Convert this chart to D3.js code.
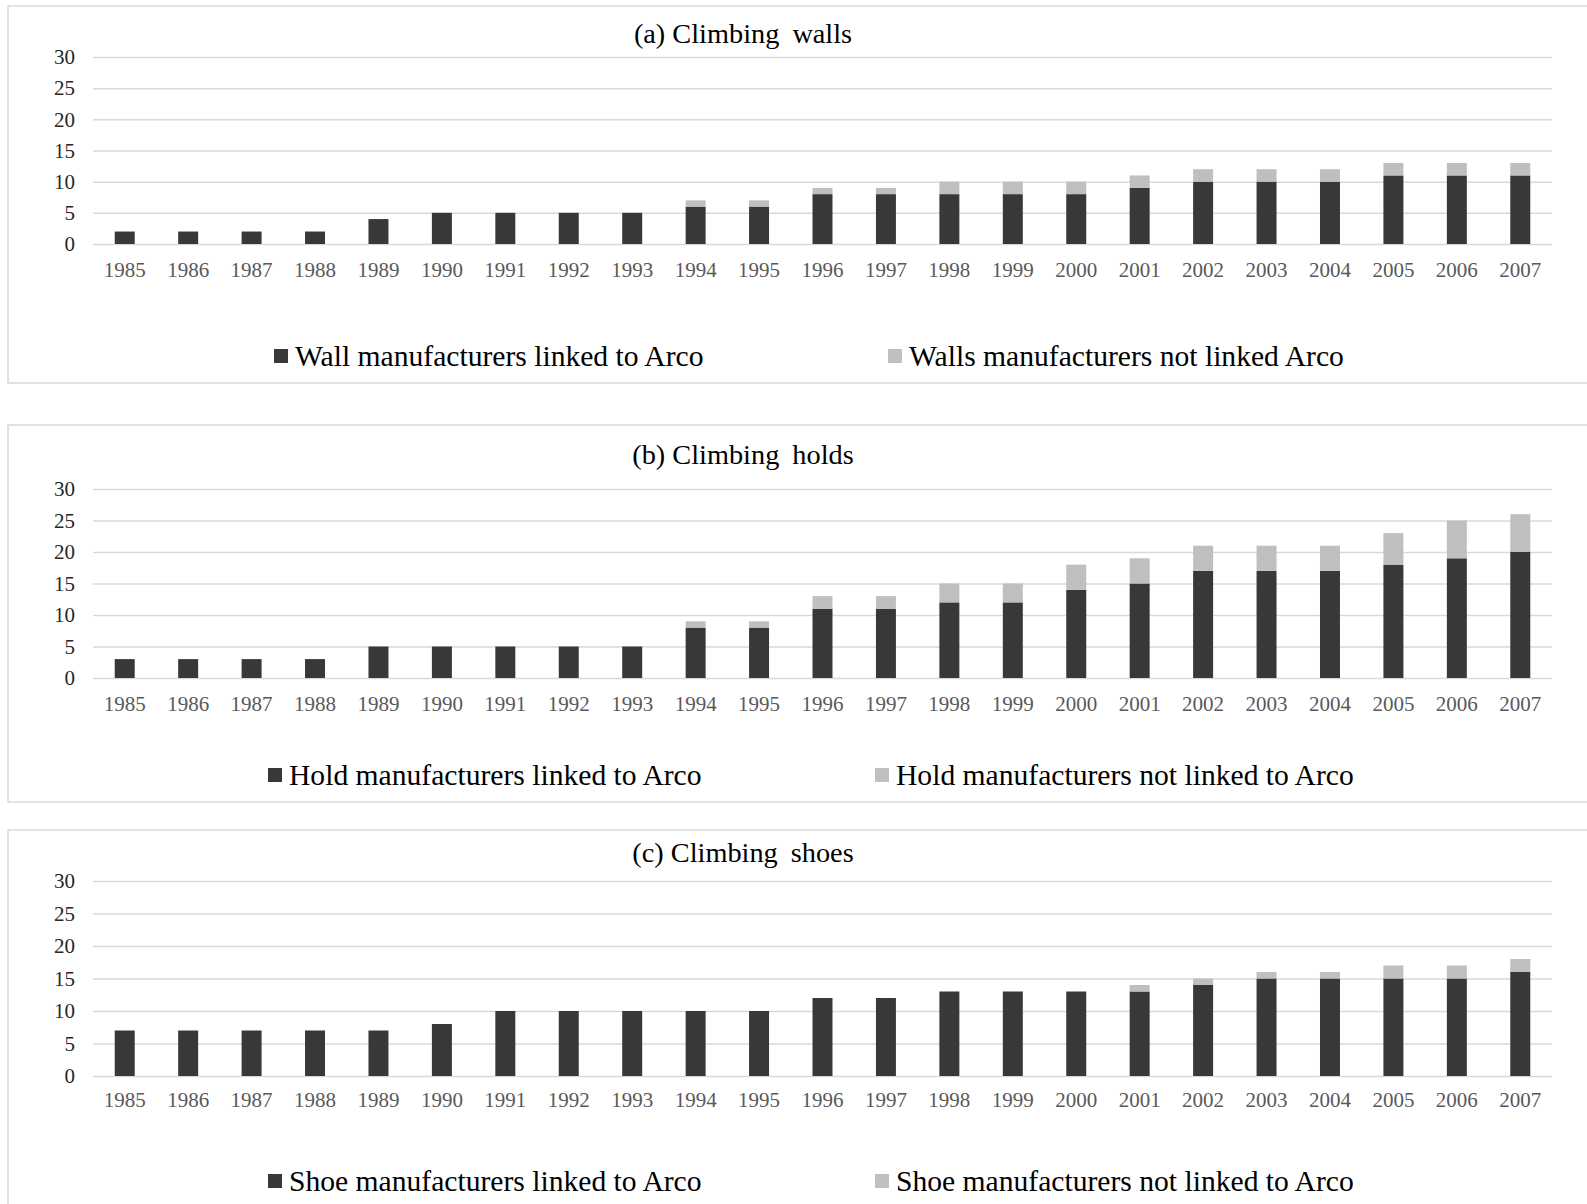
<!DOCTYPE html>
<html lang="en">
<head>
  <meta charset="UTF-8" />
  <title>Climbing manufacturers</title>
  <script src="https://cdn.jsdelivr.net/npm/d3@7"></script>
  <style>
    body { margin: 0; background: #fff; }
    svg text { font-family: "Liberation Serif", "Times New Roman", serif; }
  </style>
</head>
<body>
<script>
  // years on the x axis
  const years = d3.range(1985, 2008).map(String);
  const yTicks = [0, 5, 10, 15, 20, 25, 30];

  // (a) climbing walls
  const wallsLinked    = [2, 2, 2, 2, 4, 5, 5, 5, 5, 6, 6, 8, 8, 8, 8, 8, 9, 10, 10, 10, 11, 11, 11];
  const wallsNotLinked = [0, 0, 0, 0, 0, 0, 0, 0, 0, 1, 1, 1, 1, 2, 2, 2, 2, 2, 2, 2, 2, 2, 2];

  // (b) climbing holds
  const holdsLinked    = [3, 3, 3, 3, 5, 5, 5, 5, 5, 8, 8, 11, 11, 12, 12, 14, 15, 17, 17, 17, 18, 19, 20];
  const holdsNotLinked = [0, 0, 0, 0, 0, 0, 0, 0, 0, 1, 1, 2, 2, 3, 3, 4, 4, 4, 4, 4, 5, 6, 6];

  // (c) climbing shoes
  const shoesLinked    = [7, 7, 7, 7, 7, 8, 10, 10, 10, 10, 10, 12, 12, 13, 13, 13, 13, 14, 15, 15, 15, 15, 16];
  const shoesNotLinked = [0, 0, 0, 0, 0, 0, 0, 0, 0, 0, 0, 0, 0, 0, 0, 0, 1, 1, 1, 1, 2, 2, 2];

  // titles split so the wider gap before the last word can be kept
  const titles = [["(a) Climbing", "walls"], ["(b) Climbing", "holds"], ["(c) Climbing", "shoes"]];
  const legendLabels = [
    ["Wall manufacturers linked to Arco", "Walls manufacturers not linked Arco"],
    ["Hold manufacturers linked to Arco", "Hold manufacturers not linked to Arco"],
    ["Shoe manufacturers linked to Arco", "Shoe manufacturers not linked to Arco"]
  ];

  const width = 1587, height = 1204;
  const darkColor = "#3a3836", lightColor = "#bfbfbf", gridColor = "#d9d9d9";
  const plotLeft = 93, plotRight = 1552;

  // layout of each panel box (pixel positions only)
  const panels = [
    { linked: wallsLinked, notLinked: wallsNotLinked, top: 6,   bottom: 383,  y30: 57,  y0: 244,  labelPad: 18, titleY: 43,  legendY: 356,  leg: [274, 888] },
    { linked: holdsLinked, notLinked: holdsNotLinked, top: 425, bottom: 802,  y30: 489, y0: 678,  labelPad: 18, titleY: 464, legendY: 775,  leg: [268, 875] },
    { linked: shoesLinked, notLinked: shoesNotLinked, top: 830, bottom: 1230, y30: 881, y0: 1076, labelPad: 16, titleY: 862, legendY: 1181, leg: [268, 875] }
  ];

  const svg = d3.select("body").append("svg")
    .attr("width", width)
    .attr("height", height);

  const x = d3.scaleBand()
    .domain(years)
    .range([plotLeft, plotRight])
    .paddingInner(0.685)
    .paddingOuter(0.3425);

  panels.forEach((p, i) => {
    const g = svg.append("g");

    // panel frame
    g.append("rect")
      .attr("x", 8).attr("y", p.top)
      .attr("width", width).attr("height", p.bottom - p.top)
      .attr("fill", "#fff")
      .attr("stroke", gridColor)
      .attr("stroke-width", 1.5);

    const y = d3.scaleLinear().domain([0, 30]).range([p.y0, p.y30]);

    // gridlines + y labels
    const yAxis = g.append("g")
      .attr("transform", `translate(${plotLeft},0)`)
      .call(d3.axisLeft(y).tickValues(yTicks).tickSize(-(plotRight - plotLeft)).tickPadding(18));
    yAxis.select(".domain").remove();
    yAxis.selectAll("line").attr("stroke", gridColor).attr("stroke-width", 1.5);
    yAxis.selectAll("text")
      .attr("fill", "#262626")
      .style("font-size", "21px");

    // x labels
    const xAxis = g.append("g")
      .attr("transform", `translate(0,${p.y0})`)
      .call(d3.axisBottom(x).tickSize(0).tickPadding(p.labelPad));
    xAxis.select(".domain").remove();
    xAxis.selectAll("text")
      .attr("fill", "#595959")
      .style("font-size", "21px");

    // stacked bars
    const stacked = years.map((yr, j) => ({ year: yr, linked: p.linked[j], notLinked: p.notLinked[j] }));
    const series = d3.stack().keys(["linked", "notLinked"])(stacked);
    const colors = [darkColor, lightColor];

    g.selectAll("g.series")
      .data(series)
      .join("g")
      .attr("class", "series")
      .attr("fill", (d, k) => colors[k])
      .selectAll("rect")
      .data(d => d.filter(v => v[1] > v[0]))
      .join("rect")
      .attr("x", d => x(d.data.year))
      .attr("width", x.bandwidth())
      .attr("y", d => y(d[1]))
      .attr("height", d => y(d[0]) - y(d[1]));

    // title
    const title = g.append("text")
      .attr("x", 743)
      .attr("y", p.titleY)
      .attr("text-anchor", "middle")
      .attr("fill", "#000")
      .style("font-size", "28.3px");
    title.append("tspan").text(titles[i][0] + " ");
    title.append("tspan").attr("dx", 6).text(titles[i][1]);

    // legend
    legendLabels[i].forEach((label, k) => {
      g.append("rect")
        .attr("x", p.leg[k])
        .attr("y", p.legendY - 7)
        .attr("width", 14).attr("height", 14)
        .attr("fill", colors[k]);
      g.append("text")
        .attr("x", p.leg[k] + 21)
        .attr("y", p.legendY + 10)
        .attr("fill", "#000")
        .style("font-size", "29.6px")
        .text(label);
    });
  });
</script>
</body>
</html>
